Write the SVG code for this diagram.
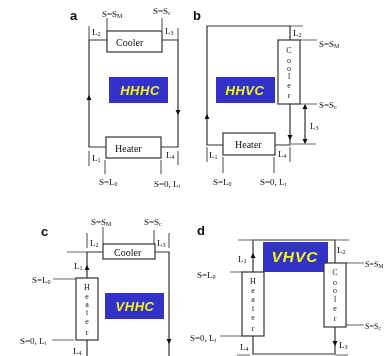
<svg xmlns="http://www.w3.org/2000/svg" width="385" height="356" viewBox="0 0 385 356">
<defs>
<filter id="soft" x="0" y="0" width="385" height="356" filterUnits="userSpaceOnUse"><feGaussianBlur stdDeviation="0.55"/></filter>
</defs>
<style>
.ln{fill:none;stroke:#333;stroke-width:1.2}
.tick{fill:none;stroke:#666;stroke-width:1.2}
.box{fill:#fff;stroke:#333;stroke-width:1.2}
.t{font-family:"Liberation Serif",serif;font-size:9px;fill:#111}
.s{font-size:6px}
.n{font-size:10px}
.v{font-size:8px;text-anchor:middle}
.e{font-size:8px}
.e .s{font-size:5.500px}
.p{font-family:"Liberation Sans",sans-serif;font-weight:bold;font-size:13px;fill:#111}
.bn{fill:#3333c8}
.hh{font-family:"Liberation Sans",sans-serif;font-weight:bold;font-style:italic;font-size:13px;letter-spacing:0.5px;fill:#f4f420;text-anchor:middle}
.big{font-size:15.5px;letter-spacing:1px}
.a{fill:#111}
</style>
<rect width="385" height="356" fill="#fff"/>
<g filter="url(#soft)">
<g id="connectors">
<path class="ln" d="M107,40H89V147H106M162,40H178V147H161"/>
<path class="a" d="M86.500,100L91.500,100L89,95z"/><path class="a" d="M175.500,110L180.500,110L178,115z"/>
<path class="tick" d="M89,26V40M107,18V31M162,18V30M178,28V40M89,151V166M105,160V174M161,160V174M178,151V165"/>
<path class="ln" d="M223,145H207V26H290V40M290,104V145H275"/>
<path class="tick" d="M290,26H303M300,40H317M300,104H317M291,144H316M207,147V162M223,157V173M274,157V173M290,147V162"/>
<path class="a" d="M204.500,119L209.500,119L207,114z"/><path class="a" d="M287.500,135L292.500,135L290,140z"/>
<path class="ln" d="M305,105V143"/><path class="a" d="M302.500,109H307.500L305,104zM302.500,139H307.500L305,144z"/>
<path class="ln" d="M103,252H87V278M87,340V356M155,252H169V356"/>
<path class="tick" d="M67,252H87M87,233V248M103,227V244M154,230V248M169,233V248M53,279H76M52,340H74"/>
<path class="a" d="M84.500,270H89.500L87,265z"/><path class="a" d="M166.500,339H171.500L169,344z"/>
<path class="ln" d="M253,272V240H335V263M253,336V354H335V327"/>
<path class="tick" d="M238,240H253M335,240H349M230,272H242M220,336H242M346,263H364M346,325H364M237,355H250M335,355H348"/>
<path class="a" d="M250.500,258H255.500L253,253z"/><path class="a" d="M332.500,341H337.500L335,346z"/>
</g>
<g id="node-a">
<text class="p" x="70" y="20">a</text>
<rect class="box" x="107" y="31" width="55" height="21"/>
<text class="t n" x="116" y="45.500">Cooler</text>
<rect class="box" x="106" y="137" width="55" height="21"/>
<text class="t n" x="115" y="152">Heater</text>
<rect class="bn" x="109" y="77" width="59" height="26"/>
<text class="hh" x="140" y="94.500">HHHC</text>
<text class="t" x="102" y="17">S=S<tspan class="s" dy="1">M</tspan></text>
<text class="t" x="153" y="14">S=S<tspan class="s" dy="1">c</tspan></text>
<text class="t" x="92" y="35">L<tspan class="s" dy="1">2</tspan></text>
<text class="t" x="165" y="34">L<tspan class="s" dy="1">3</tspan></text>
<text class="t" x="92" y="161">L<tspan class="s" dy="1">1</tspan></text>
<text class="t" x="166" y="158">L<tspan class="s" dy="1">4</tspan></text>
<text class="t" x="99" y="185">S=L<tspan class="s" dy="1">0</tspan></text>
<text class="t" x="154" y="187">S=0, L<tspan class="s" dy="1">t</tspan></text>
</g>
<g id="node-b">
<text class="p" x="193" y="20">b</text>
<rect class="box" x="278" y="40" width="22" height="64"/>
<text class="t v" x="289" y="53">C</text><text class="t v" x="289" y="63">o</text><text class="t v" x="289" y="71">o</text><text class="t v" x="289" y="79">l</text><text class="t v" x="289" y="88">e</text><text class="t v" x="289" y="98">r</text>
<rect class="box" x="223" y="133" width="52" height="22"/>
<text class="t n" x="235" y="147.500">Heater</text>
<rect class="bn" x="216" y="77" width="59" height="26"/>
<text class="hh" x="245" y="94.500">HHVC</text>
<text class="t" x="319" y="47">S=S<tspan class="s" dy="1">M</tspan></text>
<text class="t" x="319" y="108">S=S<tspan class="s" dy="1">c</tspan></text>
<text class="t" x="293" y="36">L<tspan class="s" dy="1">2</tspan></text>
<text class="t" x="310" y="129">L<tspan class="s" dy="1">3</tspan></text>
<text class="t" x="209" y="158">L<tspan class="s" dy="1">1</tspan></text>
<text class="t" x="278" y="157">L<tspan class="s" dy="1">4</tspan></text>
<text class="t" x="213" y="185">S=L<tspan class="s" dy="1">0</tspan></text>
<text class="t" x="260" y="185">S=0, L<tspan class="s" dy="1">t</tspan></text>
</g>
<g id="node-c">
<text class="p" x="41" y="236">c</text>
<rect class="box" x="103" y="244" width="52" height="15"/>
<text class="t n" x="114" y="255.500">Cooler</text>
<rect class="box" x="76" y="278" width="22" height="62"/>
<text class="t v" x="87" y="290">H</text><text class="t v" x="87" y="299">e</text><text class="t v" x="87" y="307">a</text><text class="t v" x="87" y="315">t</text><text class="t v" x="87" y="324">e</text><text class="t v" x="87" y="335">r</text>
<rect class="bn" x="105" y="293" width="59" height="26"/>
<text class="hh" x="135" y="310.500">VHHC</text>
<text class="t" x="91" y="225">S=S<tspan class="s" dy="1">M</tspan></text>
<text class="t" x="144" y="225">S=S<tspan class="s" dy="1">c</tspan></text>
<text class="t" x="90" y="246">L<tspan class="s" dy="1">2</tspan></text>
<text class="t" x="157" y="246">L<tspan class="s" dy="1">3</tspan></text>
<text class="t" x="74" y="269">L<tspan class="s" dy="1">1</tspan></text>
<text class="t" x="73" y="354">L<tspan class="s" dy="1">4</tspan></text>
<text class="t" x="32" y="283">S=L<tspan class="s" dy="1">0</tspan></text>
<text class="t" x="20" y="344">S=0, L<tspan class="s" dy="1">t</tspan></text>
</g>
<g id="node-d">
<text class="p" x="197" y="235">d</text>
<rect class="bn" x="263" y="242" width="65" height="30"/>
<text class="hh big" x="295" y="262">VHVC</text>
<rect class="box" x="242" y="272" width="22" height="64"/>
<text class="t v" x="253" y="284">H</text><text class="t v" x="253" y="293">e</text><text class="t v" x="253" y="302">a</text><text class="t v" x="253" y="311">t</text><text class="t v" x="253" y="320">e</text><text class="t v" x="253" y="331">r</text>
<rect class="box" x="324" y="263" width="22" height="64"/>
<text class="t v" x="335" y="275">C</text><text class="t v" x="335" y="285">o</text><text class="t v" x="335" y="293">o</text><text class="t v" x="335" y="302">l</text><text class="t v" x="335" y="311">e</text><text class="t v" x="335" y="321">r</text>
<text class="t e" x="365" y="267">S=S<tspan class="s" dy="1">M</tspan></text>
<text class="t e" x="365" y="329">S=S<tspan class="s" dy="1">c</tspan></text>
<text class="t" x="337" y="253">L<tspan class="s" dy="1">2</tspan></text>
<text class="t" x="339" y="348">L<tspan class="s" dy="1">3</tspan></text>
<text class="t" x="238" y="262">L<tspan class="s" dy="1">1</tspan></text>
<text class="t" x="240" y="350">L<tspan class="s" dy="1">4</tspan></text>
<text class="t" x="197" y="278">S=L<tspan class="s" dy="1">0</tspan></text>
<text class="t" x="190" y="341">S=0, L<tspan class="s" dy="1">t</tspan></text>
</g>
</g>
</svg>
